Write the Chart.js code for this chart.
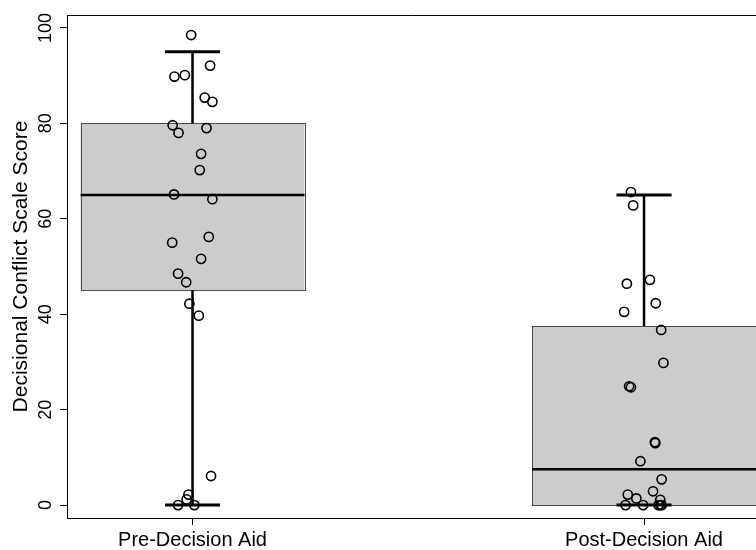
<!DOCTYPE html>
<html><head><meta charset="utf-8">
<script src="https://cdn.jsdelivr.net/npm/chart.js@4/dist/chart.umd.min.js"></script>
<style>html,body{margin:0;padding:0;background:#fff;overflow:hidden}</style>
</head><body>
<canvas id="c" width="756" height="550"></canvas>
<script>
// ---- data ----
const categories = ['Pre-Decision Aid', 'Post-Decision Aid'];
const yTicks = [0, 20, 40, 60, 80, 100];
const yTitle = 'Decisional Conflict Scale Score';

// box statistics per category
const whiskerLow  = [0, 0];
const q1          = [45, 0];
const medians     = [65, 7.5];
const q3          = [80, 37.5];
const whiskerHigh = [95, 65];

// individual (jittered) observations
const preValues = [98.5, 92.1, 89.8, 90.1, 85.4, 84.5, 79.6, 78.0, 79.0, 73.6, 70.2, 65.1, 64.1, 56.2, 55.0, 51.6, 48.5, 46.7, 42.2, 39.7, 6.1, 2.2, 1.2, 0, 0];
const preJitter = [0.997, 1.039, 0.960, 0.983, 1.027, 1.044, 0.956, 0.969, 1.031, 1.019, 1.016, 0.959, 1.044, 1.036, 0.955, 1.019, 0.968, 0.986, 0.993, 1.014, 1.041, 0.991, 0.987, 0.968, 1.004];
const postValues = [65.6, 62.8, 46.4, 47.2, 42.3, 40.5, 36.7, 29.8, 24.9, 24.7, 13.2, 13.0, 9.2, 5.4, 2.9, 2.2, 1.4, 1.1, 0, 0, 0, 0, 0];
const postJitter = [1.971, 1.976, 1.962, 2.013, 2.026, 1.956, 2.038, 2.043, 1.967, 1.971, 2.024, 2.025, 1.992, 2.039, 2.020, 1.964, 1.983, 2.036, 1.959, 1.998, 2.032, 2.036, 2.039];

// ---- styling ----
const FONT = 'Liberation Sans, Arial, Helvetica, sans-serif';
const BOX_HALF = 0.248;
const CAP_HALF = 0.061;

const boxPlugin = {
  id: 'boxes',
  beforeDatasetsDraw(chart) {
    const {ctx, scales: {x, y}} = chart;
    ctx.save();
    for (let i = 0; i < categories.length; i++) {
      const c = i + 1;
      const xl = x.getPixelForValue(c - BOX_HALF);
      const xr = x.getPixelForValue(c + BOX_HALF);
      const xc = x.getPixelForValue(c);
      const yq1 = y.getPixelForValue(q1[i]);
      const yq3 = y.getPixelForValue(q3[i]);
      const ym = y.getPixelForValue(medians[i]);
      const ylo = y.getPixelForValue(whiskerLow[i]);
      const yhi = y.getPixelForValue(whiskerHigh[i]);
      // box
      ctx.fillStyle = '#cccccc';
      ctx.fillRect(xl, yq3, xr - xl, yq1 - yq3);
      ctx.strokeStyle = '#4d4d4d';
      ctx.lineWidth = 1;
      ctx.strokeRect(Math.round(xl) + 0.5, Math.round(yq3) + 0.5, Math.round(xr - xl), Math.round(yq1 - yq3));
      // median
      ctx.strokeStyle = '#000';
      ctx.lineWidth = 2.5;
      ctx.beginPath(); ctx.moveTo(xl, ym); ctx.lineTo(xr, ym); ctx.stroke();
      // whiskers
      ctx.lineWidth = 2.5;
      ctx.beginPath();
      ctx.moveTo(xc, yq3); ctx.lineTo(xc, yhi);
      ctx.moveTo(xc, yq1); ctx.lineTo(xc, ylo);
      ctx.stroke();
      // caps
      const cl = x.getPixelForValue(c - CAP_HALF);
      const cr = x.getPixelForValue(c + CAP_HALF);
      ctx.lineWidth = 3;
      ctx.beginPath();
      ctx.moveTo(cl, yhi); ctx.lineTo(cr, yhi);
      ctx.moveTo(cl, ylo); ctx.lineTo(cr, ylo);
      ctx.stroke();
    }
    ctx.restore();
  },
  afterDraw(chart) {
    const {ctx, chartArea: a, scales: {y}} = chart;
    ctx.save();
    // top frame line
    ctx.strokeStyle = '#000';
    ctx.lineWidth = 1;
    ctx.beginPath(); ctx.moveTo(a.left, a.top + 0.5); ctx.lineTo(a.right, a.top + 0.5); ctx.stroke();
    // y tick labels (rotated)
    ctx.fillStyle = '#000';
    ctx.font = '18px ' + FONT;
    ctx.textAlign = 'center';
    ctx.textBaseline = 'middle';
    for (const v of yTicks) {
      ctx.save();
      ctx.translate(45, y.getPixelForValue(v));
      ctx.rotate(-Math.PI / 2);
      ctx.fillText(String(v), 0, 1);
      ctx.restore();
    }
    // y title
    ctx.font = '21px ' + FONT;
    ctx.save();
    ctx.translate(20, (a.top + a.bottom) / 2);
    ctx.rotate(-Math.PI / 2);
    ctx.fillText(yTitle, 0, 1);
    ctx.restore();
    ctx.restore();
  }
};

new Chart(document.getElementById('c'), {
  type: 'scatter',
  data: {
    datasets: [
      { label: categories[0], data: preValues.map((v, i) => ({x: preJitter[i], y: v})) },
      { label: categories[1], data: postValues.map((v, i) => ({x: postJitter[i], y: v})) }
    ]
  },
  options: {
    responsive: false,
    animation: false,
    devicePixelRatio: 1,
    events: [],
    layout: { autoPadding: false, padding: { top: 15, right: 0, left: 0, bottom: 0 } },
    elements: {
      point: { radius: 4.6, borderWidth: 1.6, borderColor: '#000', backgroundColor: 'rgba(0,0,0,0)', pointStyle: 'circle' }
    },
    plugins: { legend: { display: false }, tooltip: { enabled: false } },
    scales: {
      x: {
        type: 'linear', min: 0.722, max: 2.248,
        afterBuildTicks: s => { s.ticks = categories.map((c, i) => ({ value: i + 1 })); },
        afterFit: s => { s.height = 32; s.paddingLeft = 0; s.paddingRight = 0; },
        ticks: {
          callback: v => categories[Math.round(v) - 1] || '',
          font: { family: FONT, size: 20 }, color: '#000', padding: 3,
          maxRotation: 0, minRotation: 0, autoSkip: false
        },
        grid: { drawOnChartArea: false, drawTicks: true, tickLength: 7, color: '#000', tickWidth: 1 },
        border: { display: true, color: '#000', width: 1 }
      },
      y: {
        min: -2.7, max: 102.7,
        afterBuildTicks: s => { s.ticks = yTicks.map(v => ({ value: v })); },
        afterFit: s => { s.width = 67; s.paddingTop = 0; s.paddingBottom = 0; },
        ticks: { display: false },
        grid: { drawOnChartArea: false, drawTicks: true, tickLength: 7, color: '#000', tickWidth: 1 },
        border: { display: true, color: '#000', width: 1 }
      }
    }
  },
  plugins: [boxPlugin]
});
</script>
</body></html>
